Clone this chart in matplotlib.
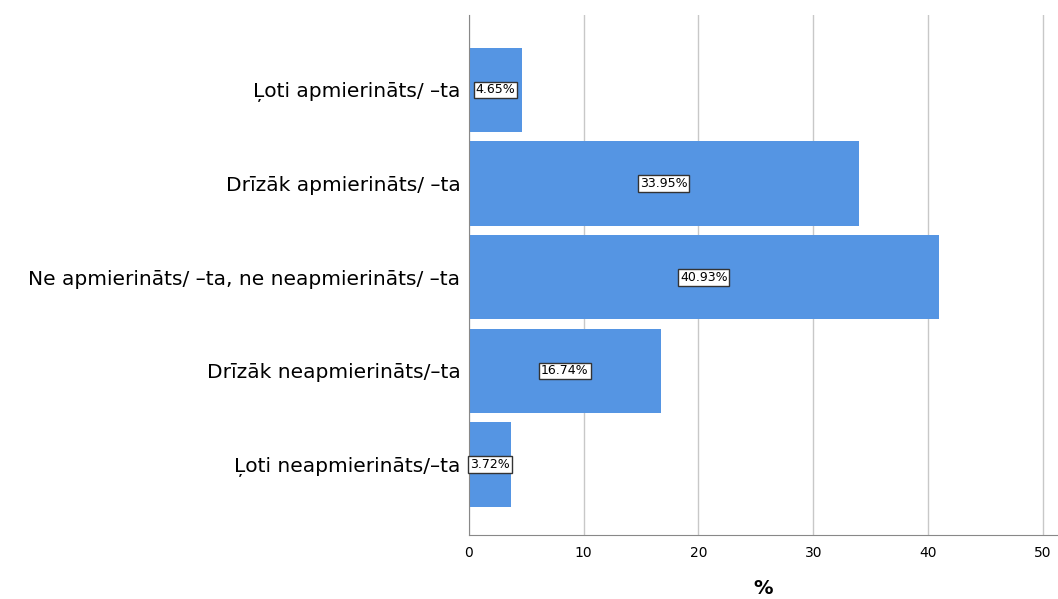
import matplotlib
matplotlib.use("Agg")
import matplotlib.pyplot as plt

categories = [
    "Ļoti apmierināts/ \u2013ta",
    "Drīzāk apmierināts/ \u2013ta",
    "Ne apmierināts/ \u2013ta, ne neapmierināts/ \u2013ta",
    "Drīzāk neapmierināts/\u2013ta",
    "Ļoti neapmierināts/\u2013ta",
]
percent = [4.65, 33.95, 40.93, 16.74, 3.72]
xticks = [0, 10, 20, 30, 40, 50]

fig = plt.figure(figsize=(10.58, 5.99), dpi=100)
ax = fig.add_axes([0.443, 0.107, 0.557, 0.868])

pos = list(range(len(categories)))
bars = ax.barh(pos, percent, height=0.9, color="#5595e3", zorder=2)

for b, v in zip(bars, percent):
    ax.text(b.get_width() / 2, b.get_y() + b.get_height() / 2, f"{v:.2f}%",
            ha="center", va="center", fontsize=9, zorder=3,
            bbox=dict(boxstyle="square,pad=0.15", fc="white", ec="#333333", lw=1))

ax.set_yticks(pos)
ax.set_yticklabels(categories, fontsize=14.5)
ax.set_ylim(4.75, -0.8)
ax.set_xlim(0, 51.3)
ax.set_xticks(xticks)
ax.set_xticklabels([str(t) for t in xticks], fontsize=10)
ax.tick_params(axis="both", length=0, pad=6)
ax.tick_params(axis="x", pad=8)

ax.grid(axis="x", color="#c8c8c8", lw=1, zorder=0)
for s in ["top", "right"]:
    ax.spines[s].set_visible(False)
ax.spines["left"].set_color("#888888")
ax.spines["bottom"].set_color("#888888")

ax.set_xlabel("%", fontsize=14, fontweight="bold", labelpad=14)

fig.savefig("out.png", dpi=100)
